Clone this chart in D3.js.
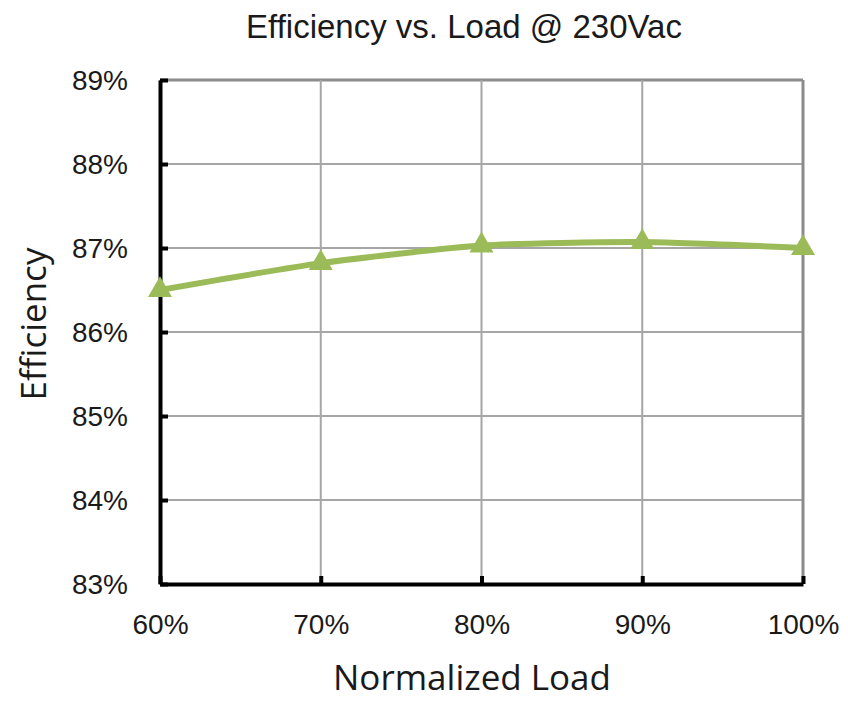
<!DOCTYPE html>
<html>
<head>
<meta charset="utf-8">
<script src="https://cdn.jsdelivr.net/npm/d3@7"></script>
<style>
  body { margin: 0; background: #fff; }
  svg text { fill: #1a1a1a; }
</style>
</head>
<body>
<div id="viz"></div>
<script>
// load points (fraction of full load) and measured efficiency (%)
const loads = [0.6, 0.7, 0.8, 0.9, 1.0];
const efficiency = [86.50, 86.82, 87.03, 87.07, 87.00];

const xTicks = [0.6, 0.7, 0.8, 0.9, 1.0];
const yTicks = [83, 84, 85, 86, 87, 88, 89];

const chartTitle = 'Efficiency vs. Load @ 230Vac';
const xTitle = 'Normalized Load';
const yTitle = 'Efficiency';

const dimensions = {
    width: 848,
    height: 702,
    margins: { top: 80, right: 45, bottom: 118, left: 160 }
};
dimensions.boundedWidth = dimensions.width - dimensions.margins.left - dimensions.margins.right;
dimensions.boundedHeight = dimensions.height - dimensions.margins.top - dimensions.margins.bottom;

const svg = d3.select('#viz').append('svg')
    .attr('width', dimensions.width)
    .attr('height', dimensions.height);

const bounds = svg.append('g')
    .attr('transform', `translate(${dimensions.margins.left},${dimensions.margins.top})`);

// scales
const xScale = d3.scaleLinear()
    .domain([0.6, 1.0])
    .range([0, dimensions.boundedWidth]);

const yScale = d3.scaleLinear()
    .domain([83, 89])
    .range([dimensions.boundedHeight, 0]);

// gridlines
bounds.append('g')
    .selectAll('line')
    .data(yTicks)
    .join('line')
        .attr('x1', 0)
        .attr('x2', dimensions.boundedWidth)
        .attr('y1', d => yScale(d))
        .attr('y2', d => yScale(d))
        .attr('stroke', d => d === 89 ? '#8c8c8c' : '#a6a6a6')
        .attr('stroke-width', d => d === 89 ? 3 : 2);

bounds.append('g')
    .selectAll('line')
    .data(xTicks)
    .join('line')
        .attr('x1', d => xScale(d))
        .attr('x2', d => xScale(d))
        .attr('y1', 0)
        .attr('y2', dimensions.boundedHeight)
        .attr('stroke', d => d === 1.0 ? '#8c8c8c' : '#a6a6a6')
        .attr('stroke-width', d => d === 1.0 ? 3 : 2);

// axes, ticks drawn inward
const xAxis = d3.axisBottom(xScale)
    .tickValues(xTicks)
    .tickSizeInner(-8)
    .tickSizeOuter(0)
    .tickPadding(30)
    .tickFormat(d3.format('.0%'));

const yAxis = d3.axisLeft(yScale)
    .tickValues(yTicks)
    .tickSizeInner(-8)
    .tickSizeOuter(0)
    .tickPadding(32)
    .tickFormat(d => d + '%');

const xAxisG = bounds.append('g')
    .attr('transform', `translate(0,${dimensions.boundedHeight})`)
    .call(xAxis);

const yAxisG = bounds.append('g')
    .call(yAxis);

[xAxisG, yAxisG].forEach(g => {
    g.select('.domain').attr('stroke', '#000').attr('stroke-width', 4);
    g.selectAll('.tick line').attr('stroke', '#000').attr('stroke-width', 4);
    g.selectAll('.tick text')
        .attr('fill', '#1a1a1a')
        .style('font-family', '"Liberation Sans", Arial, sans-serif')
        .style('font-size', '28px');
});
xAxisG.selectAll('.tick text').attr('dy', '0.71em');
yAxisG.selectAll('.tick text').attr('dy', '0.35em');

// series
const series = d3.line()
    .x((d, i) => xScale(loads[i]))
    .y(d => yScale(d))
    .curve(d3.curveCardinal.tension(0.4));

bounds.append('path')
    .datum(efficiency)
    .attr('d', series)
    .attr('fill', 'none')
    .attr('stroke', '#9bbb59')
    .attr('stroke-width', 6)
    .attr('stroke-linecap', 'round');

const triangle = d3.symbol().type(d3.symbolTriangle).size(250);

bounds.append('g')
    .selectAll('path')
    .data(efficiency)
    .join('path')
        .attr('d', triangle)
        .attr('transform', (d, i) => `translate(${xScale(loads[i])},${yScale(d)})`)
        .attr('fill', '#9bbb59');

// titles
svg.append('text')
    .attr('x', 464)
    .attr('y', 38)
    .attr('text-anchor', 'middle')
    .style('font-family', '"Liberation Sans", Arial, sans-serif')
    .style('font-size', '33px')
    .text(chartTitle);

svg.append('text')
    .attr('x', 472)
    .attr('y', 690)
    .attr('text-anchor', 'middle')
    .style('font-family', '"Open Sans", sans-serif')
    .style('font-size', '35px')
    .text(xTitle);

svg.append('text')
    .attr('transform', 'translate(46,324) rotate(-90)')
    .attr('text-anchor', 'middle')
    .style('font-family', '"Open Sans", sans-serif')
    .style('font-size', '35px')
    .text(yTitle);
</script>
</body>
</html>
